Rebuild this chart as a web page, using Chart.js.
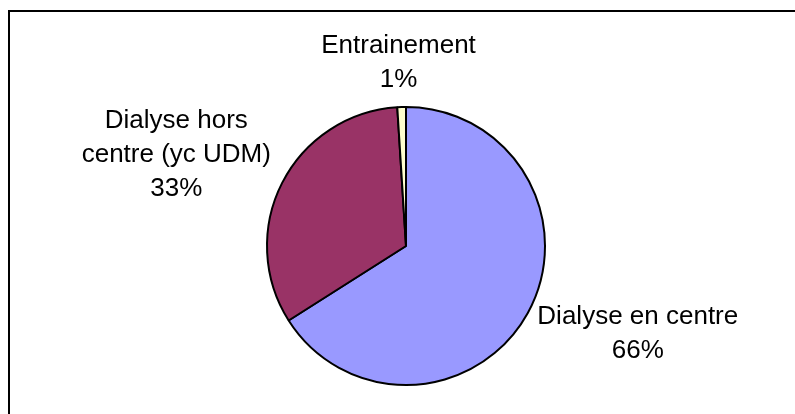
<!DOCTYPE html>
<html>
<head>
<meta charset="utf-8">
<script src="https://cdn.jsdelivr.net/npm/chart.js@4.4.1/dist/chart.umd.min.js"></script>
<style>
  html, body { margin: 0; padding: 0; background: #fff; overflow: hidden; }
  #wrap { position: relative; width: 795px; height: 414px; }
  #frame { position: absolute; left: 8px; top: 10px; width: 800px; height: 420px; border: 2px solid #000; }
  canvas { position: absolute; left: 0; top: 0; }
</style>
</head>
<body>
<div id="wrap">
  <div id="frame"></div>
  <canvas id="myChart" width="795" height="414"></canvas>
</div>
<script>
// categories (multi-line labels wrap the same way as on the chart)
var categories = [
    ['Dialyse en centre'],
    ['Dialyse hors', 'centre (yc UDM)'],
    ['Entrainement']
];
// share of patients, in percent
var shares = [66, 33, 1];
var sliceColors = ['#9999FF', '#993366', '#FFFFCC'];

var labelFont = '26px "Liberation Sans", Arial, sans-serif';
var lineHeight = 34;

// draws "category / xx%" next to each slice, pushed outward along the slice middle
var outsideLabels = {
    id: 'outsideLabels',
    afterDatasetsDraw: function(chart) {
        var ctx = chart.ctx;
        var meta = chart.getDatasetMeta(0);
        var data = chart.data.datasets[0].data;
        var total = data.reduce(function(a, b) { return a + b; }, 0);

        ctx.save();
        ctx.font = labelFont;
        ctx.fillStyle = '#000';
        ctx.textAlign = 'center';
        ctx.textBaseline = 'middle';

        meta.data.forEach(function(arc, i) {
            var p = arc.getProps(['x', 'y', 'startAngle', 'endAngle', 'outerRadius'], true);
            var mid = (p.startAngle + p.endAngle) / 2;
            var dx = Math.cos(mid), dy = Math.sin(mid);
            var ax = p.x + dx * (p.outerRadius + 10);
            var ay = p.y + dy * (p.outerRadius + 10);

            var lines = chart.data.labels[i].concat([Math.round(data[i] / total * 100) + '%']);
            var w = Math.max.apply(null, lines.map(function(t) { return ctx.measureText(t).width; }));
            var h = lines.length * lineHeight;

            var cx = ax + dx * (w / 2) * 1.15;
            var cy = ay + dy * (h / 2);
            lines.forEach(function(t, k) {
                ctx.fillText(t, cx, cy - h / 2 + lineHeight * (k + 0.5));
            });
        });
        ctx.restore();
    }
};

var ctx = document.getElementById('myChart').getContext('2d');
var chart = new Chart(ctx, {
    type: 'pie',
    data: {
        labels: categories,
        datasets: [{
            data: shares,
            backgroundColor: sliceColors,
            borderColor: '#000',
            borderWidth: 2
        }]
    },
    options: {
        responsive: false,
        animation: false,
        layout: { padding: { top: 106, bottom: 28, left: 17, right: 0 } },
        plugins: {
            legend: { display: false },
            tooltip: { enabled: false }
        }
    },
    plugins: [outsideLabels]
});
</script>
</body>
</html>
